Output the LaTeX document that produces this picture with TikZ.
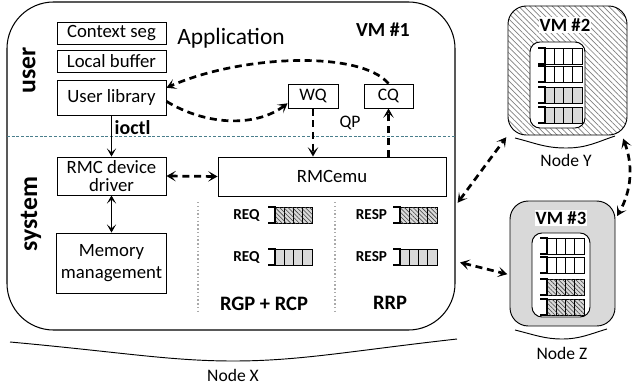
\documentclass[tikz,border=0pt]{standalone}
\usepackage{fontspec}
\setmainfont{Carlito}
\usetikzlibrary{arrows.meta,patterns.meta}

\definecolor{cellgray}{RGB}{217,217,217}
\definecolor{sepcol}{RGB}{74,126,140}
\definecolor{dotgray}{RGB}{170,170,170}

% queue: bracket + 4 cells, (#1,#2) is the top left corner
\newcommand{\queuebox}[3]{%
  \foreach \i in {0,...,3}
    \draw[#3] ({#1+7+9.25*\i},#2) rectangle ++(9.25,16);
  \draw[line width=1.6pt] (#1,#2) -- ++(7,0) -- ++(0,16) -- ++(-7,0);
}

\begin{document}
\begin{tikzpicture}[x=0.03cm, y=-0.03cm,
  box/.style={draw, line width=0.8pt, inner sep=1pt, align=center, font=\fontsize{16}{18}\selectfont},
  qlabel/.style={font=\bfseries\fontsize{13}{15}\selectfont},
  big/.style={font=\bfseries\fontsize{17.5}{20}\selectfont},
  link/.style={line width=2.3pt, dash pattern=on 6pt off 4pt, >={Stealth[length=8pt,width=9pt,inset=4pt]}},
  wire/.style={line width=1.5pt, >={Stealth[length=7pt,width=8pt,inset=3.5pt]}},
  cell/.style={draw, line width=0.6pt, fill=white},
  graycell/.style={draw, line width=0.6pt, fill=cellgray},
  hatchcell/.style={draw, line width=0.6pt, fill=cellgray, postaction={pattern={Lines[angle=-45,distance=2.6pt,line width=0.5pt]}, pattern color=black!75}}]
\useasboundingbox (0,0) rectangle (636,389);

% Node X
\node[draw, line width=0.9pt, rounded corners=1.4cm, minimum width=13.44cm, minimum height=9.84cm] (vm1) at (231,166) {};
\draw[sepcol, line width=0.8pt, dash pattern=on 2.5pt off 1.5pt] (7,136) -- (455,136);
\node[rotate=90, font=\bfseries\fontsize{22}{24}\selectfont] (user) at (29,70) {user};
\node[rotate=90, font=\bfseries\fontsize{22}{24}\selectfont] (system) at (31,214) {system};
\node[font=\fontsize{20}{22}\selectfont] (app) at (231,38) {Application};
\node[font=\bfseries\fontsize{17}{19}\selectfont] (vm1name) at (383,30) {VM \#1};

\node[box, minimum width=3.27cm, minimum height=0.66cm] (ctx) at (111.5,33) {Context seg};
\node[box, minimum width=3.27cm, minimum height=0.66cm] (lbuf) at (111.5,61) {Local buffer};
\node[box, minimum width=3.27cm, minimum height=1.05cm] (ulib) at (111.5,97.5) {User library};
\node[box, minimum width=3.27cm, minimum height=1.14cm, font=\fontsize{16}{15}\selectfont] (drv) at (111.5,176) {RMC device\\driver};
\node[box, minimum width=3.3cm, minimum height=1.8cm, font=\fontsize{16}{19}\selectfont] (mem) at (111.5,263) {Memory\\management};
\node[box, minimum width=1.5cm, minimum height=0.72cm, font=\fontsize{15}{17}\selectfont] (wq) at (313,96) {WQ};
\node[box, minimum width=1.47cm, minimum height=0.72cm, font=\fontsize{15}{17}\selectfont] (cq) at (388.5,96) {CQ};
\node[font=\fontsize{15}{17}\selectfont] (qp) at (350,123) {QP};
\node[box, minimum width=6.84cm, minimum height=1.17cm] (emu) at (332,176.5) {RMCemu};

\draw[dotgray, line width=1.2pt, dotted] (198,202) -- (198,312);
\draw[dotgray, line width=1.2pt, dotted] (335,202) -- (335,312);

\node[qlabel] (req1) at (246.5,215) {REQ};
\node[qlabel] (req2) at (246.5,257) {REQ};
\node[qlabel] (resp1) at (371.5,215) {RESP};
\node[qlabel] (resp2) at (371.5,257) {RESP};
\queuebox{268}{207}{hatchcell}
\queuebox{268}{249}{graycell}
\queuebox{393}{207}{hatchcell}
\queuebox{393}{249}{graycell}
\node[big] (rgp) at (264,304) {RGP + RCP};
\node[big] (rrp) at (390,303) {RRP};

\draw[line width=0.8pt] (10,342) .. controls (120,352) and (170,361) .. (233,361) .. controls (300,361) and (350,351) .. (457,339);
\node[font=\fontsize{15}{17}\selectfont] (nodex) at (233,375) {Node X};

% Node Y
\node[draw, line width=0.8pt, rounded corners=0.55cm, minimum width=3.57cm, minimum height=3.87cm, pattern={Lines[angle=-45,distance=3.4pt,line width=0.6pt]}, pattern color=black!50] (vm2) at (567.5,70.5) {};
\node[draw, fill=white, line width=0.8pt, rounded corners=0.3cm, minimum width=1.65cm, minimum height=2.58cm] (in2) at (557.5,85) {};
\node[fill=white, inner sep=1pt, font=\bfseries\fontsize{16}{18}\selectfont] (vm2name) at (565,25) {VM \#2};
\queuebox{538}{48}{cell}
\queuebox{538}{66}{cell}
\queuebox{538}{87}{graycell}
\queuebox{538}{107}{graycell}
\draw[line width=0.8pt] (515,138) .. controls (535,143) and (545,148) .. (566,148) .. controls (587,148) and (597,142) .. (615,136);
\node[font=\fontsize{15}{17}\selectfont] (nodey) at (566,160) {Node Y};

% Node Z
\node[draw, fill=cellgray, line width=0.8pt, rounded corners=0.55cm, minimum width=3.15cm, minimum height=3.75cm] (vm3) at (562.5,263.5) {};
\node[draw, fill=white, line width=0.8pt, rounded corners=0.3cm, minimum width=1.74cm, minimum height=2.52cm] (in3) at (561,275) {};
\node[fill=white, inner sep=1pt, font=\bfseries\fontsize{16}{18}\selectfont] (vm3name) at (561,218) {VM \#3};
\queuebox{540}{238}{cell}
\queuebox{540}{257}{cell}
\queuebox{540}{279}{hatchcell}
\queuebox{540}{299}{hatchcell}
\draw[line width=0.8pt] (515,330) .. controls (535,335) and (545,339) .. (562,339) .. controls (580,339) and (590,334) .. (607,329);
\node[font=\fontsize{15}{17}\selectfont] (nodez) at (562,353) {Node Z};

% connectors
\draw[wire, ->] (ulib.south) -- node[right, pos=0.3, inner sep=2pt, font=\bfseries\fontsize{17}{19}\selectfont] {ioctl} (drv.north);
\draw[wire, <->] (drv.south) -- (mem.north);
\draw[link, <->] (drv.east) -- (emu.west);
\draw[link, ->] (wq.south) -- (wq.south |- emu.north);
\draw[link, ->] (cq.south |- emu.north) -- (cq.south);
\draw[link, ->] (cq.north) .. controls (360,50) and (240,55) .. (ulib.10);
\draw[link, ->] (ulib.-4) .. controls (205,125) and (255,128) .. (wq.196);
\draw[link, <->, shorten <=3pt, shorten >=2pt] (vm1.-10) -- (vm2.south west);
\draw[link, <->, shorten <=4pt, shorten >=2pt] (vm1.-23) -- (vm3.192);
\draw[link, <->, shorten <=3pt, shorten >=3pt] (vm2.-50) to[bend left=25] (vm3.40);
\end{tikzpicture}
\end{document}
